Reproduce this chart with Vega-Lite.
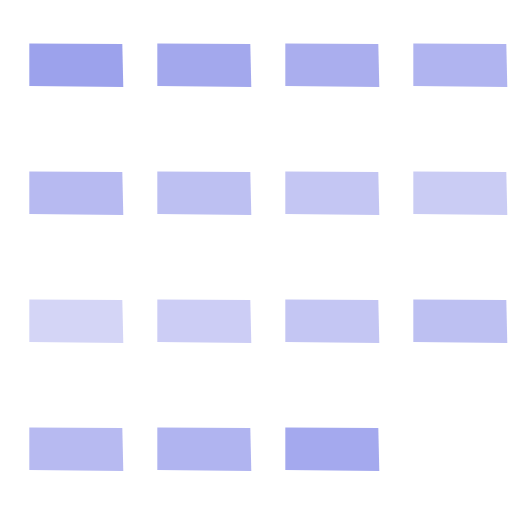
{
  "$schema": "https://vega.github.io/schema/vega-lite/v6.json",
  "width": 512,
  "height": 512,
  "padding": 0,
  "autosize": {"type": "fit", "contains": "padding"},
  "config": {"view": {"stroke": null}},
  "data": {
    "values": [
      {"col": 0, "row": 0, "v": 0},
      {"col": 1, "row": 0, "v": 1},
      {"col": 2, "row": 0, "v": 2},
      {"col": 3, "row": 0, "v": 3},
      {"col": 0, "row": 1, "v": 4},
      {"col": 1, "row": 1, "v": 5},
      {"col": 2, "row": 1, "v": 6},
      {"col": 3, "row": 1, "v": 7},
      {"col": 0, "row": 2, "v": 8.5},
      {"col": 1, "row": 2, "v": 7.2},
      {"col": 2, "row": 2, "v": 6},
      {"col": 3, "row": 2, "v": 5},
      {"col": 0, "row": 3, "v": 4},
      {"col": 1, "row": 3, "v": 3},
      {"col": 2, "row": 3, "v": 1.2}
    ]
  },
  "mark": {
    "type": "point",
    "filled": true,
    "opacity": 1,
    "size": 8836,
    "shape": "M-1,-0.457L0.979,-0.447L1,0.468L-1,0.447Z"
  },
  "encoding": {
    "x": {"field": "col", "type": "quantitative", "scale": {"domain": [-0.596, 3.404], "nice": false, "zero": false}, "axis": null},
    "y": {"field": "row", "type": "quantitative", "scale": {"domain": [-0.508, 3.492], "nice": false, "zero": false, "reverse": true}, "axis": null},
    "color": {"field": "v", "type": "quantitative", "scale": {"domain": [0, 8.5], "range": ["#9ca2ec", "#d4d5f6"]}, "legend": null}
  }
}
